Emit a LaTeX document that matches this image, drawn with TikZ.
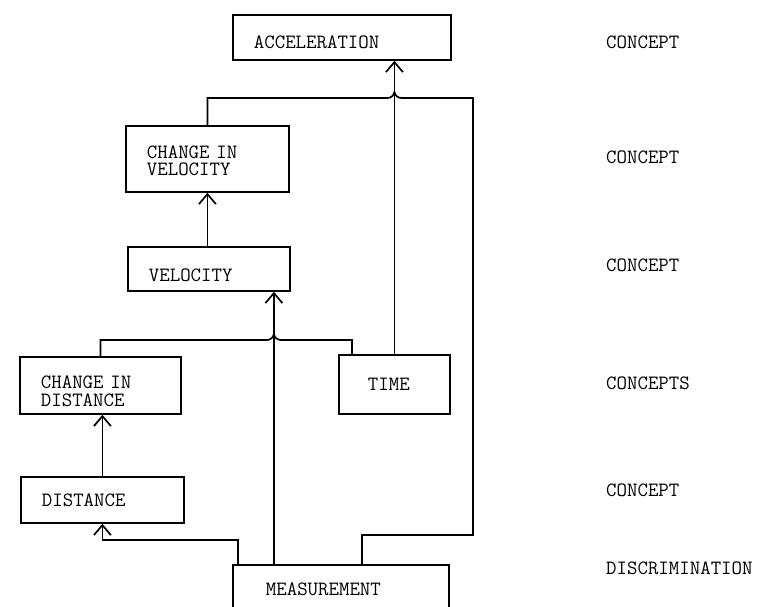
\documentclass[tikz,border=0pt]{standalone}
\usepackage{fontspec}
\usetikzlibrary{arrows.meta,positioning}
\tikzset{
  box/.style={
    rectangle,
    draw,
    line width=1.8pt,
    anchor=north west,
    align=left,
    inner xsep=21pt,
    inner ysep=0pt,
    font=\ttfamily\fontsize{20.3}{17.5}\selectfont
  },
  kindlabel/.style={
    anchor=west,
    inner sep=0pt,
    font=\ttfamily\fontsize{20.3}{17.5}\selectfont
  },
  link/.style={line width=1.7pt},
  arrow/.style={-{Straight Barb[length=10pt,width=17pt]}, line width=1.7pt}
}

\begin{document}
\begin{tikzpicture}[x=1pt,y=-1pt]
    \useasboundingbox (0,0) rectangle (757,607);

    \node[box, minimum width=218pt, text width=176pt, minimum height=45pt, text height=23pt] (acc) at (232,14) {ACCELERATION};
    \node[box, minimum width=163pt, text width=121pt, minimum height=66pt, text height=16pt] (dvel) at (125,125) {CHANGE IN\\VELOCITY};
    \node[box, minimum width=162pt, text width=120pt, minimum height=44pt, text height=26pt] (vel) at (127,246) {VELOCITY};
    \node[box, minimum width=161pt, text width=119pt, minimum height=57pt, text height=24pt] (ddist) at (19,356) {CHANGE IN\\DISTANCE};
    \node[box, inner xsep=29pt, minimum width=111pt, text width=53pt, minimum height=59pt] (time) at (338,354) {TIME};
    \node[box, minimum width=163pt, text width=121pt, minimum height=46pt] (dist) at (20,476) {DISTANCE};
    \node[box, inner xsep=33pt, minimum width=216pt, text width=150pt, minimum height=48pt] (meas) at (232,564) {MEASUREMENT};

    \node[kindlabel] (kacc) at (606,42) {CONCEPT};
    \node[kindlabel] (kdvel) at (606,157) {CONCEPT};
    \node[kindlabel] (kvel) at (606,265) {CONCEPT};
    \node[kindlabel] (kpair) at (606,383) {CONCEPTS};
    \node[kindlabel] (kdist) at (606,490) {CONCEPT};
    \node[kindlabel] (kmeas) at (606,568) {DISCRIMINATION};

    \coordinate (topbar) at (0,98);
    \coordinate (midbar) at (0,340);
    \coordinate (lowbar) at (0,540);
    \coordinate (rstep) at (473,535);
    \coordinate (mmid) at ([xshift=-67pt]meas.north);
    \coordinate (hopa) at (time.north |- topbar);
    \coordinate (hopb) at (mmid |- midbar);

    \draw[arrow] (dist.north) -- (dist.north |- ddist.south);
    \draw[arrow] (dvel.south |- vel.north) -- (dvel.south);
    \draw[arrow] (time.north) -- (time.north |- acc.south);
    \draw[arrow] (mmid) -- (mmid |- vel.south);
    \draw[arrow] ([xshift=6pt]meas.north west) |- (dist.south |- lowbar) -- (dist.south);

    \draw[link] (dvel.north) |- ([xshift=-7pt]hopa)
      to[out=0,in=-100] ([yshift=6pt]hopa)
      to[out=-80,in=180] ([xshift=7pt]hopa)
      -| (rstep) -| ([xshift=21pt]meas.north);
    \draw[link] (ddist.north) |- ([xshift=-7pt]hopb)
      to[out=0,in=-100] ([yshift=6pt]hopb)
      to[out=-80,in=180] ([xshift=7pt]hopb)
      -| ([xshift=14pt]time.north west);
  \end{tikzpicture}
\end{document}
